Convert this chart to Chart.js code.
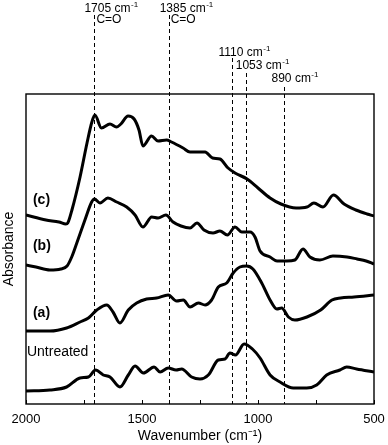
<!DOCTYPE html>
<html>
  <head>
    <title>FTIR spectra</title>
    <script src="https://cdn.jsdelivr.net/npm/chart.js@4.4.1/dist/chart.umd.min.js"></script>
    <style>
      body { margin: 0; background: #fff; }
    </style>
  </head>

  <body>
    <canvas id="canvas" width="388" height="445"></canvas>
    <script>
      // spectra (wavenumber in cm-1, absorbance in arbitrary offset units)
      const wnC = [2000, 1914, 1858, 1828, 1820, 1802, 1767, 1737, 1716, 1703, 1675, 1638, 1610, 1591, 1560, 1534, 1513, 1496, 1459, 1431, 1394, 1373, 1323, 1293, 1228, 1196, 1164, 1129, 1099, 1047, 1000, 948, 901, 836, 789, 759, 720, 675, 629, 578, 530, 500];
      const absC = [1.89, 1.84, 1.82, 1.80, 1.81, 1.94, 2.27, 2.61, 2.82, 2.89, 2.76, 2.80, 2.77, 2.80, 2.88, 2.85, 2.74, 2.58, 2.68, 2.63, 2.64, 2.62, 2.56, 2.52, 2.52, 2.46, 2.45, 2.36, 2.31, 2.25, 2.16, 2.06, 2.00, 1.96, 1.97, 2.01, 1.97, 2.09, 2.00, 1.94, 1.90, 1.88];

      const wnB = [2000, 1957, 1897, 1850, 1823, 1803, 1781, 1746, 1717, 1705, 1681, 1647, 1609, 1566, 1530, 1496, 1458, 1431, 1397, 1366, 1332, 1293, 1263, 1233, 1194, 1164, 1132, 1099, 1070, 1034, 1013, 991, 948, 918, 876, 841, 806, 776, 733, 677, 616, 573, 534, 500];
      const absB = [1.39, 1.37, 1.34, 1.35, 1.38, 1.47, 1.61, 1.84, 2.02, 2.05, 2.01, 2.06, 2.02, 1.97, 1.89, 1.77, 1.87, 1.86, 1.89, 1.82, 1.78, 1.76, 1.81, 1.74, 1.71, 1.73, 1.69, 1.77, 1.72, 1.72, 1.67, 1.53, 1.47, 1.43, 1.43, 1.44, 1.55, 1.47, 1.44, 1.48, 1.47, 1.45, 1.43, 1.40];

      const wnA = [2000, 1897, 1825, 1767, 1731, 1695, 1652, 1625, 1595, 1559, 1523, 1480, 1437, 1387, 1351, 1322, 1293, 1257, 1228, 1200, 1171, 1135, 1107, 1078, 1049, 1022, 984, 948, 919, 898, 869, 841, 789, 730, 681, 644, 586, 500];
      const absA = [0.73, 0.73, 0.76, 0.82, 0.86, 0.94, 0.99, 0.92, 0.81, 0.94, 1.01, 1.05, 1.06, 1.09, 1.03, 1.04, 0.97, 1.01, 0.99, 1.04, 1.17, 1.21, 1.31, 1.37, 1.38, 1.35, 1.21, 1.04, 0.95, 0.96, 0.87, 0.84, 0.87, 0.94, 1.04, 1.06, 1.07, 1.09];

      const wnU = [2000, 1897, 1825, 1767, 1731, 1700, 1667, 1638, 1595, 1559, 1530, 1494, 1448, 1422, 1387, 1353, 1329, 1286, 1250, 1214, 1171, 1142, 1121, 1097, 1060, 1024, 991, 948, 905, 848, 790, 747, 704, 647, 618, 575, 500];
      const absU = [0.13, 0.14, 0.17, 0.26, 0.27, 0.34, 0.29, 0.27, 0.17, 0.29, 0.38, 0.31, 0.37, 0.32, 0.36, 0.34, 0.35, 0.27, 0.25, 0.29, 0.44, 0.45, 0.51, 0.49, 0.60, 0.55, 0.46, 0.29, 0.22, 0.16, 0.16, 0.19, 0.29, 0.34, 0.37, 0.35, 0.32];

      // marked bands
      const markWn = [1705, 1385, 1110, 1053, 890];
      const markText = ['1705 cm', '1385 cm', '1110 cm', '1053 cm', '890 cm'];
      const markSub = ['C=O', 'C=O', '', '', ''];

      // curve names, placed at (wavenumber, absorbance)
      const curveNames = ['(c)', '(b)', '(a)', 'Untreated'];
      const nameWn = [1970, 1970, 1970, 1996];
      const nameAbs = [2.04, 1.58, 0.91, 0.52];

      const FONT = "'Liberation Sans', Arial, Helvetica, sans-serif";
      Chart.defaults.font.family = FONT;
      Chart.defaults.color = '#000';

      const pts = (wn, ab) => wn.map((w, i) => ({ x: w, y: ab[i] }));
      const line = (wn, ab) => ({
        data: pts(wn, ab),
        borderColor: '#000',
        borderWidth: 3,
        pointRadius: 0,
        fill: false,
        cubicInterpolationMode: 'monotone',
      });

      // label layout for the band marks (pixels)
      const labelY = [9, 9, 53, 66, 79];
      const lineTop = [15, 15, 58, 73, 87];
      const textDx = [-10, -9, -14, -10, -12];

      function supText(ctx, base, x, y) {
        ctx.font = '12px ' + FONT;
        ctx.fillText(base, x, y);
        const w = ctx.measureText(base).width;
        ctx.font = '8px ' + FONT;
        ctx.fillText('-1', x + w + 0.5, y - 4);
      }

      const marks = {
        id: 'marks',
        beforeDatasetsDraw(chart) {
          const { ctx, chartArea, scales: { x } } = chart;
          ctx.save();
          ctx.strokeStyle = '#000';
          ctx.lineWidth = 1;
          ctx.setLineDash([4, 3]);
          markWn.forEach((w, i) => {
            const px = Math.round(x.getPixelForValue(w)) + 0.5;
            ctx.beginPath();
            ctx.moveTo(px, lineTop[i]);
            ctx.lineTo(px, chartArea.bottom);
            ctx.stroke();
          });
          ctx.restore();
        },
        afterDraw(chart) {
          const { ctx, chartArea, scales: { x, y } } = chart;
          ctx.save();
          ctx.fillStyle = '#000';
          ctx.textBaseline = 'middle';
          ctx.textAlign = 'left';
          markWn.forEach((w, i) => {
            const px = x.getPixelForValue(w);
            supText(ctx, markText[i], px + textDx[i], labelY[i]);
            if (markSub[i]) {
              ctx.font = '12px ' + FONT;
              ctx.fillText(markSub[i], px + 2, labelY[i] + 11);
            }
          });
          curveNames.forEach((n, i) => {
            ctx.font = (n.startsWith('(') ? 'bold ' : '') + '14px ' + FONT;
            ctx.fillText(n, x.getPixelForValue(nameWn[i]), y.getPixelForValue(nameAbs[i]));
          });
          // frame and inward ticks
          ctx.strokeStyle = '#000';
          ctx.lineWidth = 1.4;
          ctx.strokeRect(chartArea.left, chartArea.top, chartArea.right - chartArea.left, chartArea.bottom - chartArea.top);
          ctx.lineWidth = 1;
          x.ticks.forEach((t) => {
            const px = Math.round(x.getPixelForValue(t.value)) + 0.5;
            ctx.beginPath();
            ctx.moveTo(px, chartArea.bottom);
            ctx.lineTo(px, chartArea.bottom - 4);
            ctx.stroke();
          });
          ctx.restore();
        },
      };

      new Chart(document.getElementById('canvas').getContext('2d'), {
        type: 'line',
        data: {
          datasets: [line(wnC, absC), line(wnB, absB), line(wnA, absA), line(wnU, absU)],
        },
        options: {
          responsive: false,
          animation: false,
          devicePixelRatio: 1,
          layout: { padding: { top: 94, right: 14, left: 0, bottom: 2 } },
          plugins: { legend: { display: false }, tooltip: { enabled: false } },
          scales: {
            x: {
              type: 'linear',
              reverse: true,
              min: 500,
              max: 2000,
              grid: { display: false, drawTicks: false },
              border: { display: false },
              ticks: {
                stepSize: 250,
                autoSkip: false,
                maxRotation: 0,
                padding: 9,
                font: { size: 13, lineHeight: 1 },
                callback: (v) => (v % 500 === 0 ? String(v) : ''),
              },
              title: {
                display: true,
                text: 'Wavenumber (cm\u207B\u00B9)',
                font: { size: 14, lineHeight: 1 },
                padding: { top: 3, bottom: 0 },
              },
              // fixed axis band so the plot frame lands where the figure has it
              afterFit: (s) => {
                s.height = 39;
                s.paddingLeft = 0;
                s.paddingRight = 0;
              },
            },
            y: {
              min: 0,
              max: 3.1,
              grid: { display: false, drawTicks: false },
              border: { display: false },
              ticks: { display: false },
              title: {
                display: true,
                text: 'Absorbance',
                font: { size: 14 },
                padding: { top: 1, bottom: 8 },
              },
              afterFit: (s) => {
                s.width = 26;
              },
            },
          },
        },
        plugins: [marks],
      });
    </script>
  </body>
</html>
